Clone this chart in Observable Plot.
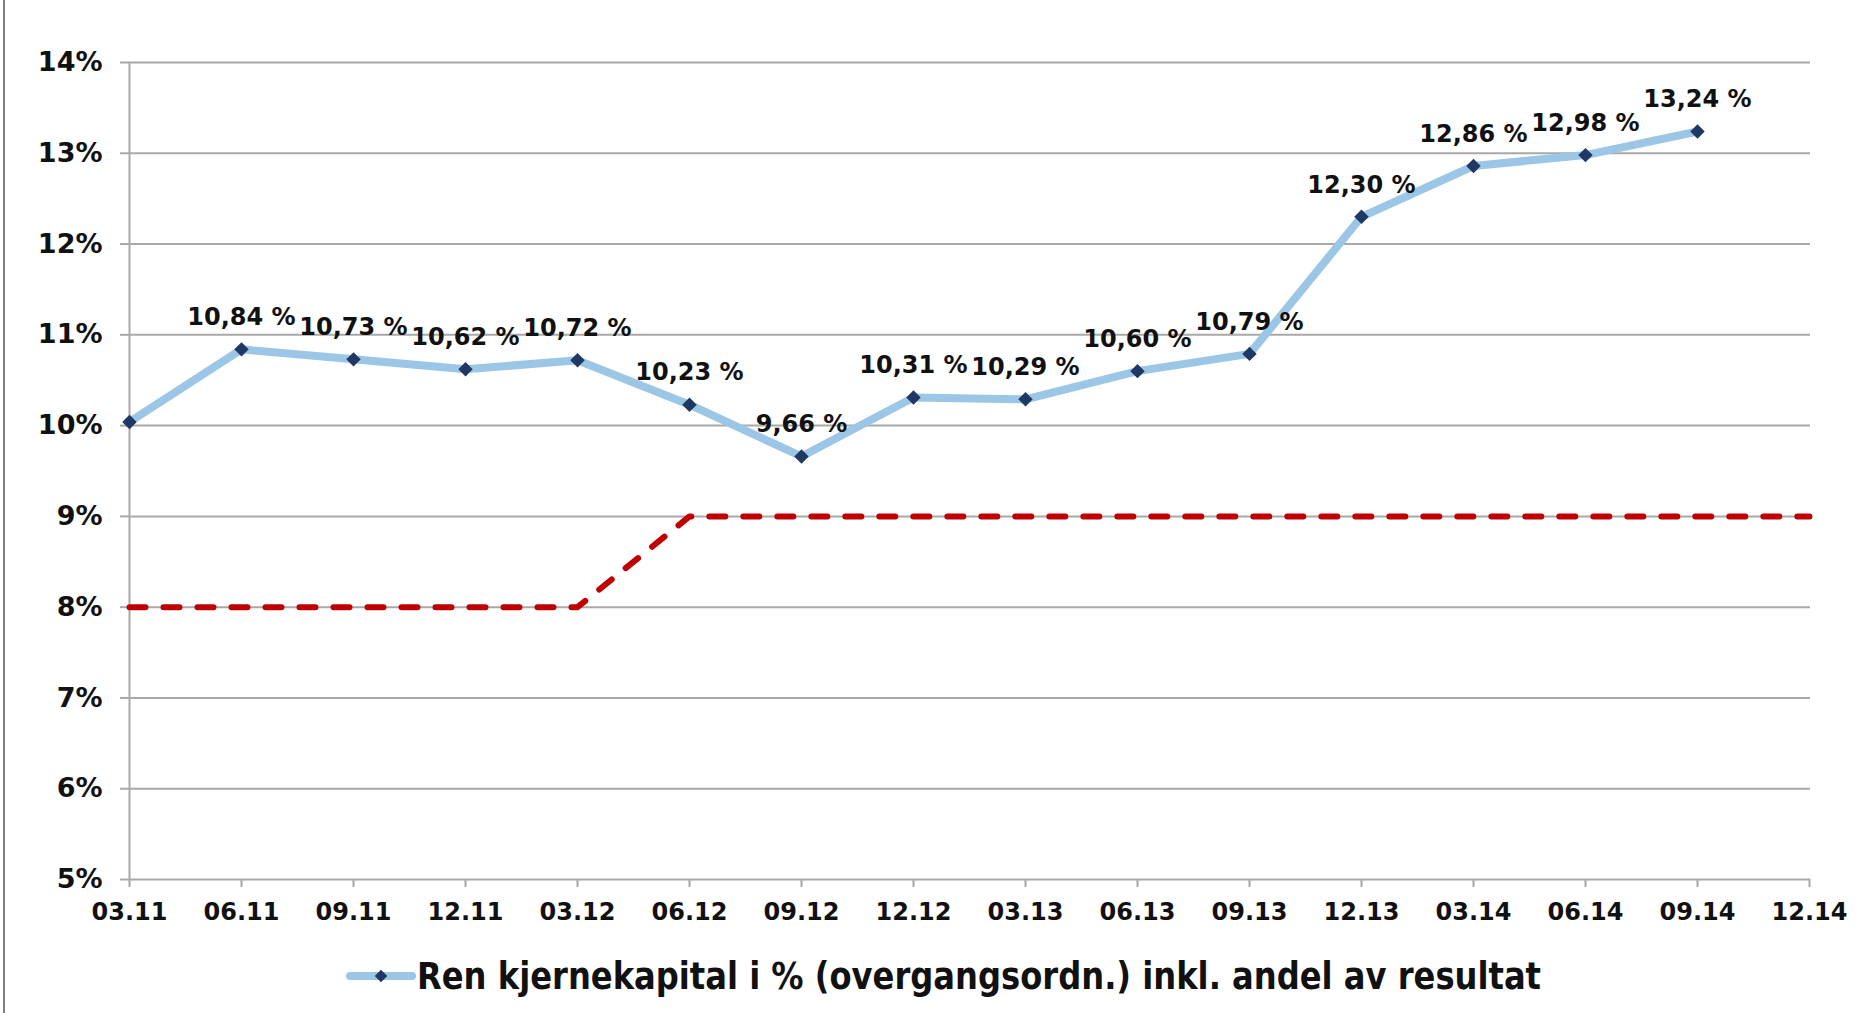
<!DOCTYPE html>
<html>
<head>
<meta charset="utf-8">
<script src="https://cdn.jsdelivr.net/npm/d3@7"></script>
<script src="https://cdn.jsdelivr.net/npm/@observablehq/plot@0.6"></script>
<style>
  html, body { margin: 0; padding: 0; background: #fff; }
  #wrap { position: relative; width: 1866px; height: 1013px; overflow: hidden; }
  #border { position: absolute; left: 3px; top: 0; width: 2px; height: 1013px; background: #7f7f7f; }
  #chart svg { display: block; }
  #legend { display: block; }
</style>
</head>
<body>
<div id="wrap">
  <div id="border"></div>
  <div id="chart"></div>
  <div id="legendbox"></div>
</div>
<script>
// ---- data ----
const categories = ["03.11","06.11","09.11","12.11","03.12","06.12","09.12","12.12","03.13","06.13","09.13","12.13","03.14","06.14","09.14","12.14"];
const coreCapital = [10.04,10.84,10.73,10.62,10.72,10.23,9.66,10.31,10.29,10.60,10.79,12.30,12.86,12.98,13.24];
const showLabel = [false,true,true,true,true,true,true,true,true,true,true,true,true,true,true];
const requirement = [8,8,8,8,8,9,9,9,9,9,9,9,9,9,9,9];
const yTicks = [5,6,7,8,9,10,11,12,13,14];
const legendText = "Ren kjernekapital i % (overgangsordn.) inkl. andel av resultat";

// ---- tables built from the arrays ----
const coreData = coreCapital.map((v, i) => ({cat: categories[i], v, show: showLabel[i]}));
const reqData = requirement.map((v, i) => ({cat: categories[i], v}));
const fmt = v => v.toFixed(2).replace(".", ",") + " %";

const font = "'DejaVu Sans', Verdana, sans-serif";
const gridColor = "#a9a9a9";

const plot = Plot.plot({
  width: 1866,
  height: 940,
  marginLeft: 128,
  marginRight: 56,
  marginTop: 62,
  marginBottom: 61,
  style: {fontFamily: font, fontSize: "24px", fontWeight: "bold", color: "#111", background: "transparent"},
  x: {type: "point", domain: categories, padding: 0, label: null},
  y: {domain: [5, 14], label: null},
  marks: [
    Plot.ruleY(yTicks, {stroke: gridColor, strokeWidth: 2}),
    Plot.ruleX([categories[0]], {y1: 5, y2: 14, stroke: gridColor, strokeWidth: 2}),
    Plot.axisY({ticks: yTicks, tickFormat: d => d + "%", tickSize: 8, tickPadding: 18, stroke: gridColor, strokeWidth: 2, fill: "#111", fontSize: 27, fontWeight: "bold", label: null, style: "letter-spacing:0.5px"}),
    Plot.axisX({tickSize: 8, tickPadding: 15, stroke: gridColor, strokeWidth: 2, fill: "#111", fontSize: 24, fontWeight: "bold", label: null, style: "letter-spacing:0.5px"}),
    Plot.line(reqData, {x: "cat", y: "v", stroke: "#C00000", strokeWidth: 6, strokeDasharray: "16,18", strokeLinecap: "round"}),
    Plot.line(coreData, {x: "cat", y: "v", stroke: "#9CC6E6", strokeWidth: 8, strokeLinejoin: "round"}),
    Plot.dot(coreData, {x: "cat", y: "v", symbol: "diamond2", r: 6.5, fill: "#1F3864", stroke: "none"}),
    Plot.text(coreData.filter(d => d.show), {x: "cat", y: "v", text: d => fmt(d.v), dy: -32, fill: "#111", fontSize: 24, fontWeight: "bold", textAnchor: "middle", lineAnchor: "middle", style: "letter-spacing:2.5px"})
  ]
});
document.getElementById("chart").appendChild(plot);

// ---- legend below the chart ----
const lg = d3.create("svg").attr("id", "legend").attr("width", 1866).attr("height", 73);
const ly = 36;
lg.append("line").attr("x1", 350).attr("x2", 412).attr("y1", ly).attr("y2", ly)
  .attr("stroke", "#9CC6E6").attr("stroke-width", 8).attr("stroke-linecap", "round");
lg.append("path").attr("d", d3.symbol(d3.symbolDiamond2, 100)()).attr("transform", `translate(381,${ly})`).attr("fill", "#1F3864");
lg.append("text").attr("x", 417).attr("y", ly).attr("dy", "0.36em")
  .attr("font-family", "'Liberation Sans Narrow', 'DejaVu Sans Condensed', 'Liberation Sans', sans-serif")
  .attr("font-weight", "bold").attr("font-size", 37).attr("fill", "#111")
  .attr("textLength", 1124).attr("lengthAdjust", "spacingAndGlyphs")
  .text(legendText);
document.getElementById("legendbox").appendChild(lg.node());
</script>
</body>
</html>
